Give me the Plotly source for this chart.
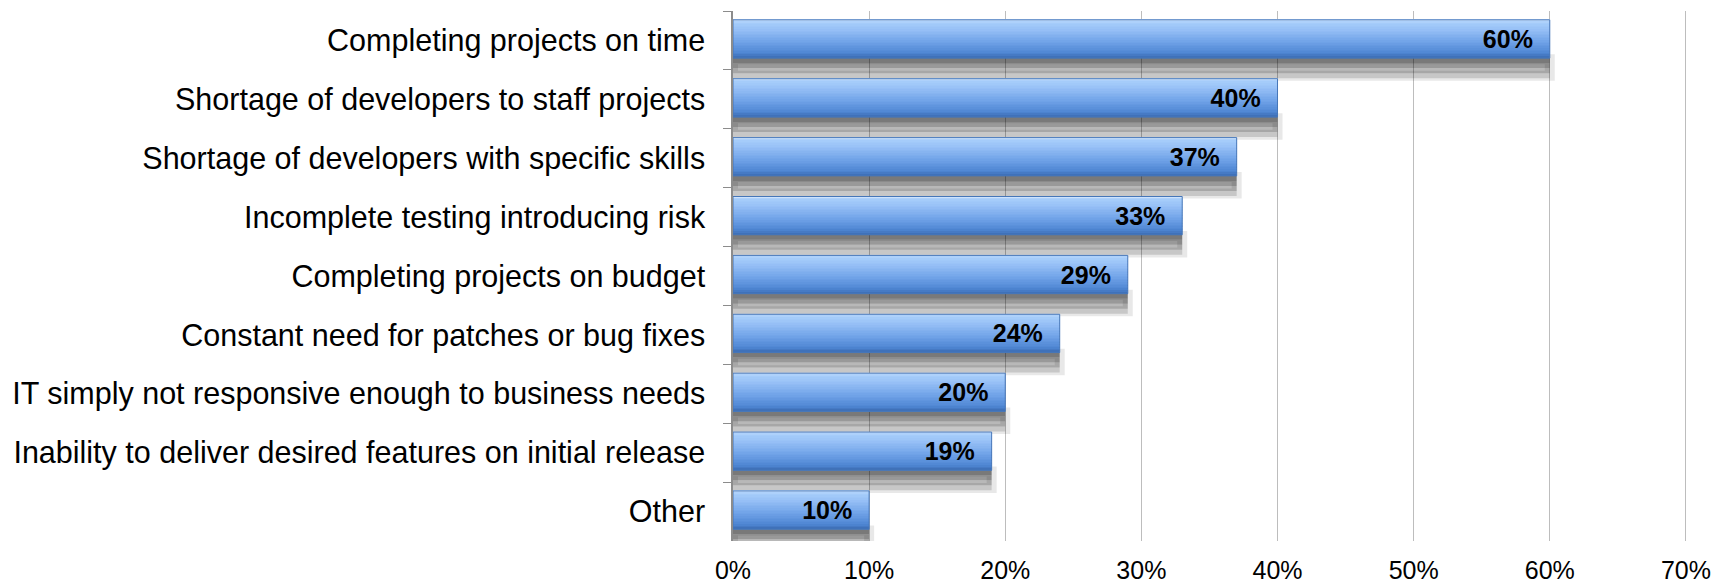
import plotly.graph_objects as go

categories = [
    "Completing projects on time",
    "Shortage of developers to staff projects",
    "Shortage of developers with specific skills",
    "Incomplete testing introducing risk",
    "Completing projects on budget",
    "Constant need for patches or bug fixes",
    "IT simply not responsive enough to business needs",
    "Inability to deliver desired features on initial release",
    "Other",
]
values = [60, 40, 37, 33, 29, 24, 20, 19, 10]
labels = [f"{v}%" for v in values]
x_ticks = [0, 10, 20, 30, 40, 50, 60, 70]
x_tick_labels = [f"{t}%" for t in x_ticks]

FONT = "Liberation Sans"
fig = go.Figure()

bar_top, bar_h = -0.35, 0.65

# soft shadow below each bar
shadow_layers = [
    (0.30, 0.085, "rgba(0,0,0,0.48)"),
    (0.385, 0.085, "rgba(0,0,0,0.40)"),
    (0.47, 0.085, "rgba(0,0,0,0.28)"),
    (0.555, 0.085, "rgba(0,0,0,0.14)"),
]
for off, w, col in shadow_layers:
    fig.add_trace(go.Bar(
        y=categories, x=values, orientation="h", offset=off, width=w,
        marker=dict(color=col, line=dict(width=0)), hoverinfo="skip", showlegend=False,
    ))
# faint blur to the right of the shadow
fig.add_trace(go.Bar(
    y=categories, x=values, orientation="h", offset=0.32, width=0.28,
    marker=dict(color="rgba(0,0,0,0)", line=dict(width=10, color="rgba(0,0,0,0.09)")),
    hoverinfo="skip", showlegend=False,
))

# smooth vertical gradient on the bars (top to bottom)
def hex2rgb(h):
    return tuple(int(h[i:i + 2], 16) for i in (1, 3, 5))

stops = [(0.0, "#dcecfe"), (0.07, "#a8cefb"), (0.25, "#98c1f7"), (0.6, "#6fa2e7"),
         (0.88, "#4f86d3"), (1.0, "#3c6cb4")]
n = 24
for i in range(n):
    t = (i + 0.5) / n
    for (t0, c0), (t1, c1) in zip(stops[:-1], stops[1:]):
        if t0 <= t <= t1:
            u = (t - t0) / (t1 - t0)
            a, b = hex2rgb(c0), hex2rgb(c1)
            rgb = tuple(round(a[k] + (b[k] - a[k]) * u) for k in range(3))
            break
    fig.add_trace(go.Bar(
        y=categories, x=values, orientation="h",
        offset=bar_top + bar_h * i / n, width=bar_h / n + 0.003,
        marker=dict(color=f"rgb{rgb}", line=dict(width=0)),
        hoverinfo="skip", showlegend=False,
    ))

# outline + data labels
fig.add_trace(go.Bar(
    y=categories, x=values, orientation="h", offset=bar_top, width=bar_h,
    marker=dict(color="rgba(0,0,0,0)", line=dict(width=1, color="#4676b8")),
    text=labels, texttemplate="%{text}\u00a0\u00a0", textposition="inside",
    insidetextanchor="end",
    textfont=dict(family=FONT, size=25, color="#000000", weight="bold"),
    cliponaxis=False, showlegend=False,
))

fig.update_layout(
    width=1731, height=585,
    barmode="overlay",
    plot_bgcolor="white", paper_bgcolor="white",
    margin=dict(l=733, r=44, t=11, b=44, autoexpand=False),
    font=dict(family=FONT, size=30, color="#000000"),
    uniformtext=dict(mode=False),
    xaxis=dict(
        range=[0, 70.08], tickvals=x_ticks, ticktext=x_tick_labels,
        showgrid=True, gridcolor="#bdbdbd", gridwidth=1.3,
        zeroline=False, showline=False, ticks="", automargin=False,
        tickfont=dict(family=FONT, size=25), ticklabelstandoff=12,
    ),
    yaxis=dict(
        type="category", categoryorder="array", categoryarray=categories,
        range=[8.5, -0.5], showgrid=False, automargin=False,
        showline=True, linecolor="#8c8c8c", linewidth=1.5,
        ticks="outside", ticklen=8, tickcolor="#8c8c8c", tickson="boundaries",
        tickfont=dict(family=FONT, size=30.5), ticklabelstandoff=20,
    ),
)

fig.write_html(
    "out.html",
    config={"displayModeBar": False},
    post_script="document.body.style.margin='0';document.body.style.overflow='hidden';",
)
